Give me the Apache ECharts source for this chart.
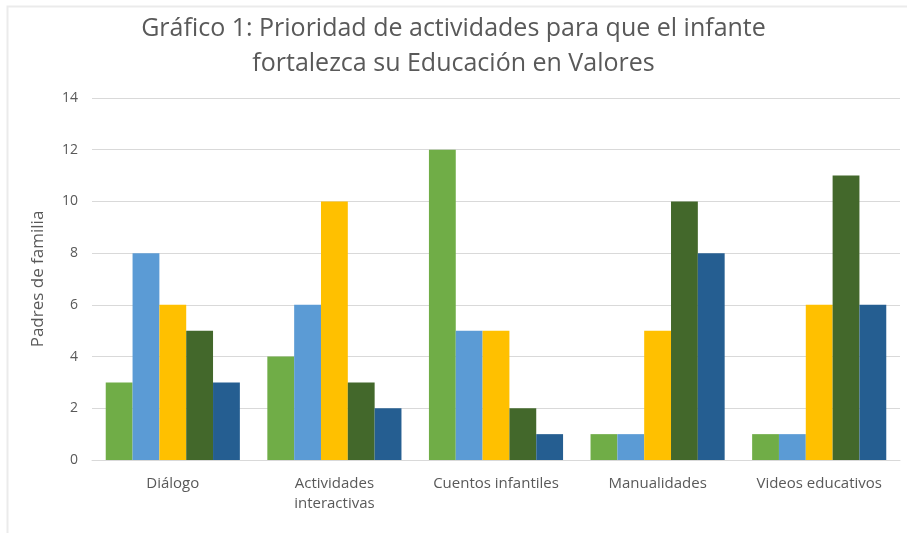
<!DOCTYPE html>
<html>
<head>
<meta charset="utf-8">
<script src="https://cdn.jsdelivr.net/npm/echarts@6/dist/echarts.min.js"></script>
<style>
  html, body { margin: 0; padding: 0; background: #fff; }
  #chart { width: 907px; height: 533px; }
</style>
</head>
<body>
<div id="chart"></div>
<script>
// Categories and values
const categories = ['Diálogo', 'Actividades\ninteractivas', 'Cuentos infantiles', 'Manualidades', 'Videos educativos'];
const serie1 = [3, 4, 12, 1, 1];
const serie2 = [8, 6, 5, 1, 1];
const serie3 = [6, 10, 5, 5, 6];
const serie4 = [5, 3, 2, 10, 11];
const serie5 = [3, 2, 1, 8, 6];
const colors = ['#70AD47', '#5B9BD5', '#FFC000', '#43682B', '#255E91'];

const textColor = '#595959';
const fontFamily = '"Open Sans", sans-serif';

function buildSeries(name, data, color) {
  return {
    name: name,
    type: 'bar',
    data: data,
    barGap: '0%',
    barCategoryGap: '17%',
    itemStyle: { color: color }
  };
}

const chart = echarts.init(document.getElementById('chart'));

chart.setOption({
  animation: false,
  // faint frame of the chart area (top and left edges)
  graphic: [{
    type: 'polyline',
    shape: { points: [[7.5, 533], [7.5, 6.5], [907, 6.5]] },
    style: { stroke: '#EBEBEB', lineWidth: 2, fill: null },
    silent: true
  }],
  title: {
    text: 'Gráfico 1: Prioridad de actividades para que el infante\nfortalezca su Educación en Valores',
    left: 'center',
    top: 6,
    textStyle: { color: textColor, fontSize: 25, fontWeight: 'normal', fontFamily: fontFamily, lineHeight: 35 }
  },
  grid: { left: 92, right: 7, top: 98, bottom: 73 },
  xAxis: {
    type: 'category',
    data: categories,
    axisLine: { lineStyle: { color: '#D9D9D9' } },
    axisTick: { show: false },
    axisLabel: { color: textColor, fontSize: 15, fontFamily: fontFamily, margin: 14, lineHeight: 20, interval: 0 }
  },
  yAxis: {
    type: 'value',
    min: 0,
    max: 14,
    interval: 2,
    name: 'Padres de familia',
    nameLocation: 'middle',
    nameGap: 45,
    nameTextStyle: { color: textColor, fontSize: 17, fontFamily: fontFamily },
    axisLine: { show: false },
    axisTick: { show: false },
    axisLabel: { color: textColor, fontSize: 14, fontFamily: fontFamily, margin: 14 },
    splitLine: { lineStyle: { color: '#D9D9D9' } }
  },
  series: [
    buildSeries('Serie 1', serie1, colors[0]),
    buildSeries('Serie 2', serie2, colors[1]),
    buildSeries('Serie 3', serie3, colors[2]),
    buildSeries('Serie 4', serie4, colors[3]),
    buildSeries('Serie 5', serie5, colors[4])
  ]
});
</script>
</body>
</html>
